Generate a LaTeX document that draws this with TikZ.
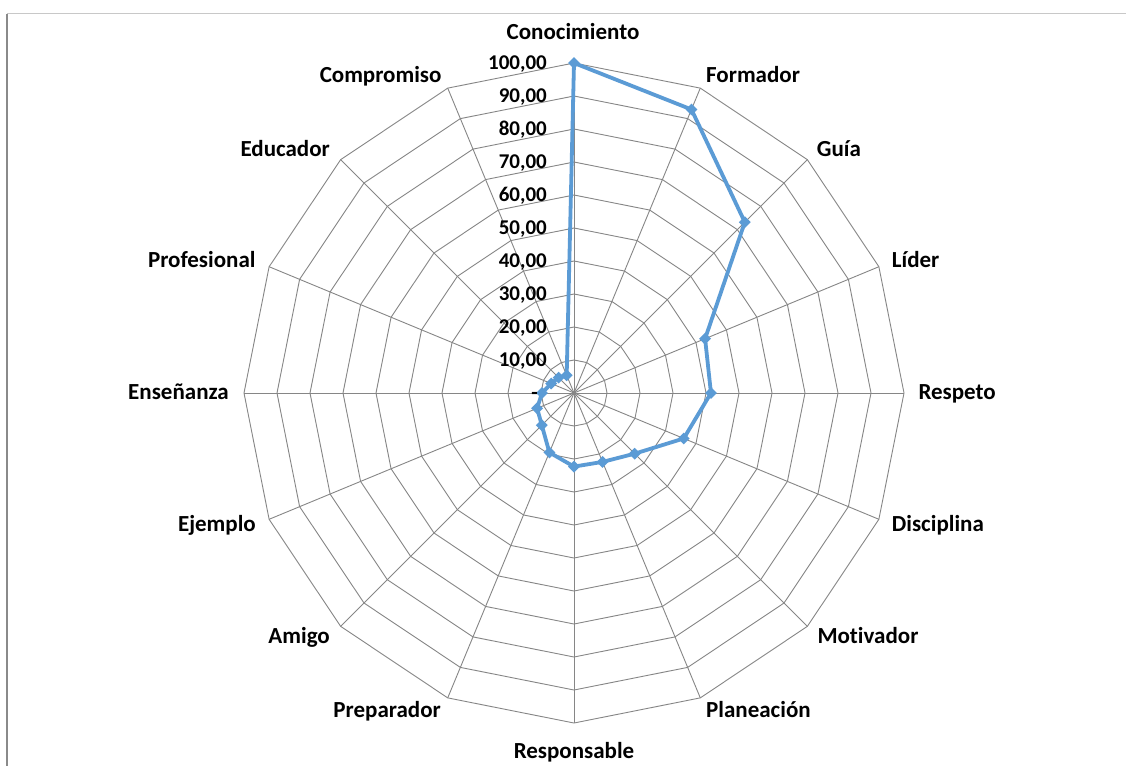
\documentclass[tikz,border=0pt]{standalone}
\usepackage{fontspec}
\setmainfont{Carlito}[Ligatures=NoCommon]
\usetikzlibrary{shapes.geometric}
\definecolor{gridgray}{RGB}{134,134,134}
\definecolor{serieblue}{RGB}{91,155,213}
\definecolor{frametop}{RGB}{200,200,200}
\definecolor{frameleft}{RGB}{138,138,138}
\begin{document}
\begin{tikzpicture}[x=1pt,y=-1pt,
  gridline/.style={draw=gridgray,line width=0.9pt},
  serie/.style={draw=serieblue,line width=3.8pt,line join=round},
  marker/.style={diamond,fill=serieblue,inner sep=0pt,minimum size=12pt},
  catlabel/.style={font=\fontsize{23}{27}\selectfont\bfseries,inner sep=0pt},
  ticklabel/.style={font=\fontsize{21}{25}\selectfont\bfseries,inner sep=0pt,anchor=base east}]
\useasboundingbox (0,0) rectangle (1126,766);
\fill[white] (0,0) rectangle (1126,766);
% frame
\coordinate (ftl) at (7,13.7);
\coordinate (ftr) at (1126,13.7);
\coordinate (fbl) at (7,766);
\draw[frametop,line width=1.5pt] (ftl) -- (ftr);
\draw[frameleft,line width=1.3pt] (ftl) -- (fbl);
% geometry
\coordinate (c) at (574,393);
\foreach \i in {0,...,15}{
  \coordinate (v\i) at ({574+330*sin(22.5*\i)},{393-330*cos(22.5*\i)});
}
% rings
\foreach \k in {1,...,10}{
  \draw[gridline] (574,{393-33*\k}) \foreach \i in {1,...,15}{ -- ({574+33*\k*sin(22.5*\i)},{393-33*\k*cos(22.5*\i)}) } -- cycle;
}
% spokes
\foreach \i in {0,...,15}{
  \draw[gridline] (c) -- (v\i);
}
% data
\foreach \v [count=\i from 0] in {100,93,73.2,43,41.5,36,26,22.6,22.3,19.5,13.8,12.1,9.7,7.5,6.6,5.8}{
  \coordinate (p\i) at ({574+3.3*\v*sin(22.5*\i)},{393-3.3*\v*cos(22.5*\i)});
}
\draw[serie] (p0) \foreach \i in {1,...,15}{ -- (p\i)} -- cycle;
\foreach \i in {0,...,15}{
  \node[marker] (d\i) at (p\i) {};
}
% value labels
\node[ticklabel] (t0) at (538,399) {-};
\foreach \k in {1,...,10}{
  \node[ticklabel] (t\k) at (547,{399-33*\k}) {\k0,00};
}
% category labels
\node[catlabel,anchor=base] (l0) at (573,39.5) {Conocimiento};
\node[catlabel,anchor=base west] (l1) at (706,82) {Formador};
\node[catlabel,anchor=base west] (l2) at (816.7,156) {Guía};
\node[catlabel,anchor=base west] (l3) at (891.7,267.7) {Líder};
\node[catlabel,anchor=base west] (l4) at (918.3,399.3) {Respeto};
\node[catlabel,anchor=base west] (l5) at (891.7,531) {Disciplina};
\node[catlabel,anchor=base west] (l6) at (817.3,643) {Motivador};
\node[catlabel,anchor=base west] (l7) at (706,717.7) {Planeación};
\node[catlabel,anchor=base] (l8) at (574,758.7) {Responsable};
\node[catlabel,anchor=base east] (l9) at (441,717.7) {Preparador};
\node[catlabel,anchor=base east] (l10) at (330,643) {Amigo};
\node[catlabel,anchor=base east] (l11) at (256,531) {Ejemplo};
\node[catlabel,anchor=base east] (l12) at (229,399.3) {Enseñanza};
\node[catlabel,anchor=base east] (l13) at (255.7,267.7) {Profesional};
\node[catlabel,anchor=base east] (l14) at (330,156) {Educador};
\node[catlabel,anchor=base east] (l15) at (441.7,82) {Compromiso};
\end{tikzpicture}
\end{document}
